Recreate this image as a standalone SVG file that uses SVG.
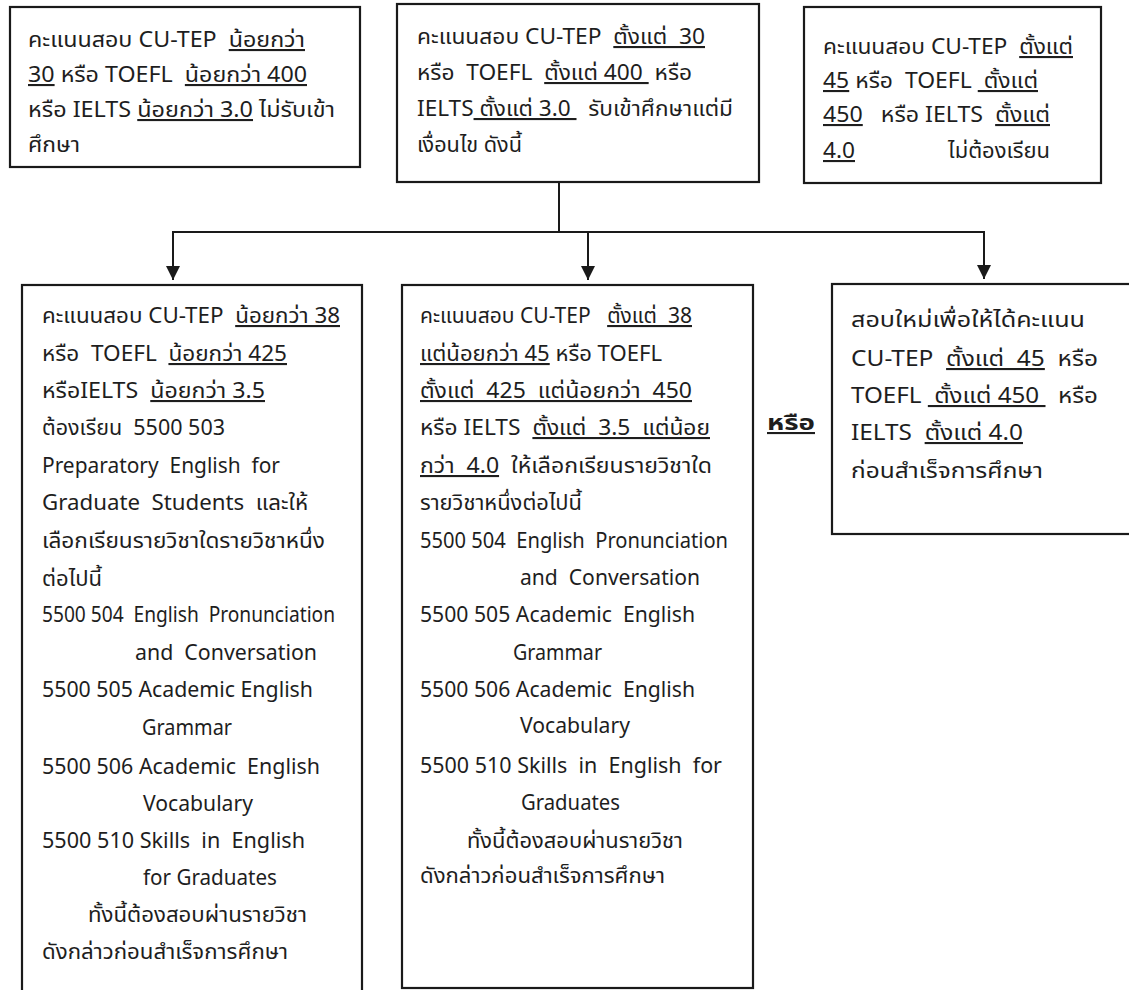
<svg xmlns="http://www.w3.org/2000/svg" width="1129" height="990" viewBox="0 0 1129 990" xml:space="preserve">
<style>
.box{fill:#fff;stroke:#1a1a1a;stroke-width:2.2}
.con{fill:none;stroke:#1a1a1a;stroke-width:2}
text{font-family:"Noto Sans","Noto Sans Thai","DejaVu Sans",sans-serif;font-size:21px;fill:#1e1e1e;white-space:pre}
.u{text-decoration:underline}
.b{font-weight:bold}
</style>
<defs>
<marker id="arr" markerUnits="userSpaceOnUse" markerWidth="16" markerHeight="16" refX="14" refY="7" orient="auto">
<path d="M0,0 L14,7 L0,14 Z" fill="#1a1a1a"/>
</marker>
</defs>
<rect width="1129" height="990" fill="#fff"/>
<g id="connectors">
<line class="con" x1="559" y1="182" x2="559" y2="232"/>
<line class="con" x1="172" y1="232" x2="985" y2="232"/>
<line class="con" x1="173" y1="231" x2="173" y2="280" marker-end="url(#arr)"/>
<line class="con" x1="588" y1="231" x2="588" y2="280" marker-end="url(#arr)"/>
<line class="con" x1="984" y1="231" x2="984" y2="279" marker-end="url(#arr)"/>
</g>
<g id="box1">
<rect class="box" x="10" y="7" width="350" height="160"/>
<text x="28" y="47" textLength="277" lengthAdjust="spacingAndGlyphs">คะแนนสอบ CU-TEP  <tspan class="u">น้อยกว่า</tspan></text>
<text x="28" y="82" textLength="279" lengthAdjust="spacingAndGlyphs"><tspan class="u">30</tspan> หรือ TOEFL  <tspan class="u">น้อยกว่า 400</tspan></text>
<text x="28" y="117" textLength="307" lengthAdjust="spacingAndGlyphs">หรือ IELTS <tspan class="u">น้อยกว่า 3.0</tspan> ไม่รับเข้า</text>
<text x="28" y="152" textLength="52" lengthAdjust="spacingAndGlyphs">ศึกษา</text>
</g>
<g id="box2">
<rect class="box" x="397" y="4" width="362" height="178"/>
<text x="417" y="44" textLength="288" lengthAdjust="spacingAndGlyphs">คะแนนสอบ CU-TEP  <tspan class="u">ตั้งแต่  30</tspan></text>
<text x="417" y="80" textLength="275" lengthAdjust="spacingAndGlyphs">หรือ  TOEFL  <tspan class="u">ตั้งแต่ 400 </tspan> หรือ</text>
<text x="417" y="116" textLength="316" lengthAdjust="spacingAndGlyphs">IELTS<tspan class="u"> ตั้งแต่ 3.0 </tspan>  รับเข้าศึกษาแต่มี</text>
<text x="417" y="152" textLength="105" lengthAdjust="spacingAndGlyphs">เงื่อนไข ดังนี้</text>
</g>
<g id="box3">
<rect class="box" x="804" y="7" width="297" height="176"/>
<text x="823" y="54" textLength="250" lengthAdjust="spacingAndGlyphs">คะแนนสอบ CU-TEP  <tspan class="u">ตั้งแต่</tspan></text>
<text x="823" y="88" textLength="215" lengthAdjust="spacingAndGlyphs"><tspan class="u">45</tspan> หรือ  TOEFL <tspan class="u"> ตั้งแต่</tspan></text>
<text x="823" y="122" textLength="227" lengthAdjust="spacingAndGlyphs"><tspan class="u">450</tspan>   หรือ IELTS  <tspan class="u">ตั้งแต่</tspan></text>
<text x="823" y="158" textLength="32" lengthAdjust="spacingAndGlyphs"><tspan class="u">4.0</tspan></text>
<text x="948" y="158" textLength="102" lengthAdjust="spacingAndGlyphs">ไม่ต้องเรียน</text>
</g>
<g id="box4">
<rect class="box" x="22" y="285" width="340" height="725"/>
<text x="42" y="323" textLength="298" lengthAdjust="spacingAndGlyphs">คะแนนสอบ CU-TEP  <tspan class="u">น้อยกว่า 38</tspan></text>
<text x="42" y="361" textLength="245" lengthAdjust="spacingAndGlyphs">หรือ  TOEFL  <tspan class="u">น้อยกว่า 425</tspan></text>
<text x="42" y="398" textLength="223" lengthAdjust="spacingAndGlyphs">หรือIELTS  <tspan class="u">น้อยกว่า 3.5</tspan></text>
<text x="42" y="435" textLength="183" lengthAdjust="spacingAndGlyphs">ต้องเรียน  5500 503</text>
<text x="42" y="473" textLength="238" lengthAdjust="spacingAndGlyphs">Preparatory  English  for</text>
<text x="42" y="510" textLength="266" lengthAdjust="spacingAndGlyphs">Graduate  Students  และให้</text>
<text x="42" y="548" textLength="283" lengthAdjust="spacingAndGlyphs">เลือกเรียนรายวิชาใดรายวิชาหนึ่ง</text>
<text x="42" y="586" textLength="60" lengthAdjust="spacingAndGlyphs">ต่อไปนี้</text>
<text x="42" y="622" textLength="293" lengthAdjust="spacingAndGlyphs">5500 504  English  Pronunciation</text>
<text x="135" y="660" textLength="182" lengthAdjust="spacingAndGlyphs">and  Conversation</text>
<text x="42" y="697" textLength="271" lengthAdjust="spacingAndGlyphs">5500 505 Academic English</text>
<text x="142" y="735" textLength="90" lengthAdjust="spacingAndGlyphs">Grammar</text>
<text x="42" y="774" textLength="278" lengthAdjust="spacingAndGlyphs">5500 506 Academic  English</text>
<text x="143" y="811" textLength="110" lengthAdjust="spacingAndGlyphs">Vocabulary</text>
<text x="42" y="848" textLength="263" lengthAdjust="spacingAndGlyphs">5500 510 Skills  in  English</text>
<text x="143" y="885" textLength="134" lengthAdjust="spacingAndGlyphs">for Graduates</text>
<text x="88" y="922" textLength="219" lengthAdjust="spacingAndGlyphs">ทั้งนี้ต้องสอบผ่านรายวิชา</text>
<text x="42" y="959" textLength="246" lengthAdjust="spacingAndGlyphs">ดังกล่าวก่อนสำเร็จการศึกษา</text>
</g>
<g id="box5">
<rect class="box" x="402" y="285" width="351" height="703"/>
<text x="420" y="323" textLength="272" lengthAdjust="spacingAndGlyphs">คะแนนสอบ CU-TEP   <tspan class="u">ตั้งแต่  38</tspan></text>
<text x="420" y="361" textLength="242" lengthAdjust="spacingAndGlyphs"><tspan class="u">แต่น้อยกว่า 45</tspan> หรือ TOEFL</text>
<text x="420" y="398" textLength="272" lengthAdjust="spacingAndGlyphs"><tspan class="u">ตั้งแต่  425  แต่น้อยกว่า  450</tspan></text>
<text x="420" y="435" textLength="290" lengthAdjust="spacingAndGlyphs">หรือ IELTS  <tspan class="u">ตั้งแต่  3.5  แต่น้อย</tspan></text>
<text x="420" y="473" textLength="292" lengthAdjust="spacingAndGlyphs"><tspan class="u">กว่า  4.0</tspan>  ให้เลือกเรียนรายวิชาใด</text>
<text x="420" y="510" textLength="162" lengthAdjust="spacingAndGlyphs">รายวิชาหนึ่งต่อไปนี้</text>
<text x="420" y="548" textLength="308" lengthAdjust="spacingAndGlyphs">5500 504  English  Pronunciation</text>
<text x="520" y="585" textLength="180" lengthAdjust="spacingAndGlyphs">and  Conversation</text>
<text x="420" y="622" textLength="275" lengthAdjust="spacingAndGlyphs">5500 505 Academic  English</text>
<text x="513" y="660" textLength="89" lengthAdjust="spacingAndGlyphs">Grammar</text>
<text x="420" y="697" textLength="275" lengthAdjust="spacingAndGlyphs">5500 506 Academic  English</text>
<text x="520" y="733" textLength="110" lengthAdjust="spacingAndGlyphs">Vocabulary</text>
<text x="420" y="773" textLength="302" lengthAdjust="spacingAndGlyphs">5500 510 Skills  in  English  for</text>
<text x="521" y="810" textLength="99" lengthAdjust="spacingAndGlyphs">Graduates</text>
<text x="467" y="848" textLength="216" lengthAdjust="spacingAndGlyphs">ทั้งนี้ต้องสอบผ่านรายวิชา</text>
<text x="420" y="883" textLength="245" lengthAdjust="spacingAndGlyphs">ดังกล่าวก่อนสำเร็จการศึกษา</text>
</g>
<g id="or-label">
<text class="b" x="767" y="430" textLength="48" lengthAdjust="spacingAndGlyphs"><tspan class="u">หรือ</tspan></text>
</g>
<g id="box6">
<rect class="box" x="832" y="284" width="310" height="250"/>
<text x="851" y="327" textLength="234" lengthAdjust="spacingAndGlyphs">สอบใหม่เพื่อให้ได้คะแนน</text>
<text x="851" y="366" textLength="247" lengthAdjust="spacingAndGlyphs">CU-TEP  <tspan class="u">ตั้งแต่  45</tspan>  หรือ</text>
<text x="851" y="403" textLength="247" lengthAdjust="spacingAndGlyphs">TOEFL <tspan class="u"> ตั้งแต่ 450 </tspan>  หรือ</text>
<text x="851" y="440" textLength="172" lengthAdjust="spacingAndGlyphs">IELTS  <tspan class="u">ตั้งแต่ 4.0</tspan></text>
<text x="851" y="478" textLength="192" lengthAdjust="spacingAndGlyphs">ก่อนสำเร็จการศึกษา</text>
</g>
</svg>
